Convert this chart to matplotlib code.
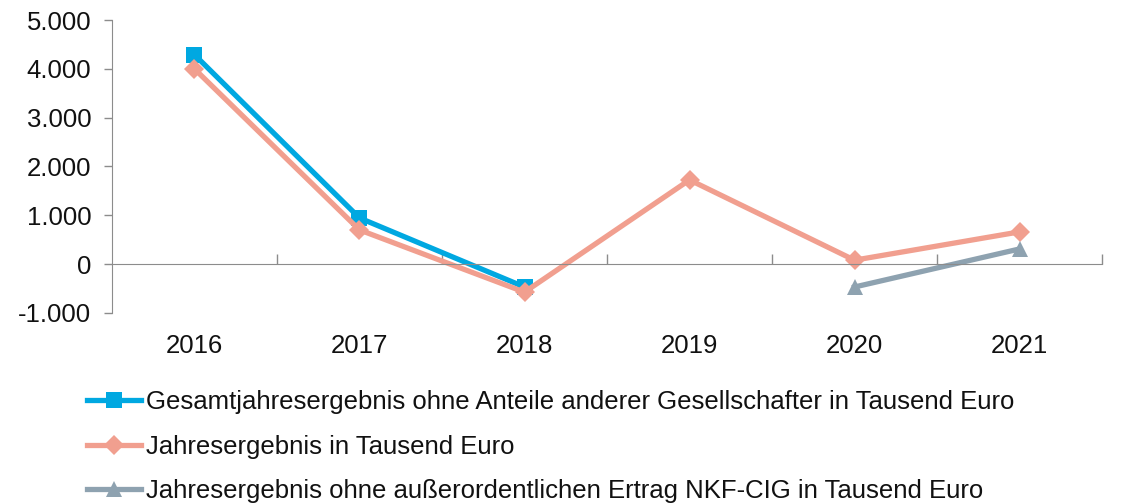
import numpy as np
import matplotlib
matplotlib.use('Agg')
import matplotlib.pyplot as plt
from matplotlib.ticker import FuncFormatter

plt.rcParams['font.family'] = ['Liberation Sans', 'DejaVu Sans']

years = ['2016', '2017', '2018', '2019', '2020', '2021']
gesamt = [4290, 945, -470, None, None, None]
jahres = [4000, 700, -575, 1725, 80, 660]
ohne_nkf = [None, None, None, None, -470, 310]

labels = ['Gesamtjahresergebnis ohne Anteile anderer Gesellschafter in Tausend Euro',
          'Jahresergebnis in Tausend Euro',
          'Jahresergebnis ohne außerordentlichen Ertrag NKF-CIG in Tausend Euro']
colors = ['#00A8E1', '#F19F8F', '#8EA2B0']
markers = ['s', 'D', '^']


def to_arr(vals):
    return np.array([np.nan if v is None else v for v in vals], dtype=float)


fig = plt.figure(figsize=(11.38, 5.03), dpi=100)
ax = fig.add_axes([0.0984, 0.378, 0.8700, 0.582])

x = np.arange(len(years))
for vals, lab, c, m, ms in zip([gesamt, jahres, ohne_nkf], labels, colors, markers,
                               [11, 10, 11]):
    ax.plot(x, to_arr(vals), color=c, lw=3.8, marker=m, markersize=ms,
            markeredgewidth=0, label=lab)

ax.set_xlim(-0.5, len(years) - 0.5)
ax.set_ylim(-1000, 5000)
ax.set_yticks(np.arange(-1000, 5001, 1000))
ax.yaxis.set_major_formatter(FuncFormatter(lambda v, p: f'{int(v):,}'.replace(',', '.')))
ax.tick_params(axis='y', labelsize=18.5, length=6, width=1, color='#8c8c8c', pad=9,
               labelcolor='#111111')

for s in ['top', 'right']:
    ax.spines[s].set_visible(False)
ax.spines['left'].set_color('#8c8c8c')
ax.spines['bottom'].set_position(('data', 0))
ax.spines['bottom'].set_color('#8c8c8c')

ax.set_xticks(x)
ax.set_xticklabels([])
ax.tick_params(axis='x', which='major', length=0)
ax.set_xticks(np.arange(0.5, len(years), 1.0), minor=True)
ax.tick_params(axis='x', which='minor', direction='in', length=7, width=1,
               color='#8c8c8c')

sec = ax.secondary_xaxis(0.0)
sec.set_xticks(x)
sec.set_xticklabels(years)
sec.spines['bottom'].set_visible(False)
sec.tick_params(axis='x', length=0, labelsize=18.5, pad=15, labelcolor='#111111')

leg = fig.legend(loc='upper left', bbox_to_anchor=(0.0675, 0.245), frameon=False,
                 fontsize=18.5, handlelength=2.1, handletextpad=0.2,
                 labelspacing=0.8, borderaxespad=0)
for t in leg.get_texts():
    t.set_color('#111111')

fig.savefig('out.png', dpi=100)
